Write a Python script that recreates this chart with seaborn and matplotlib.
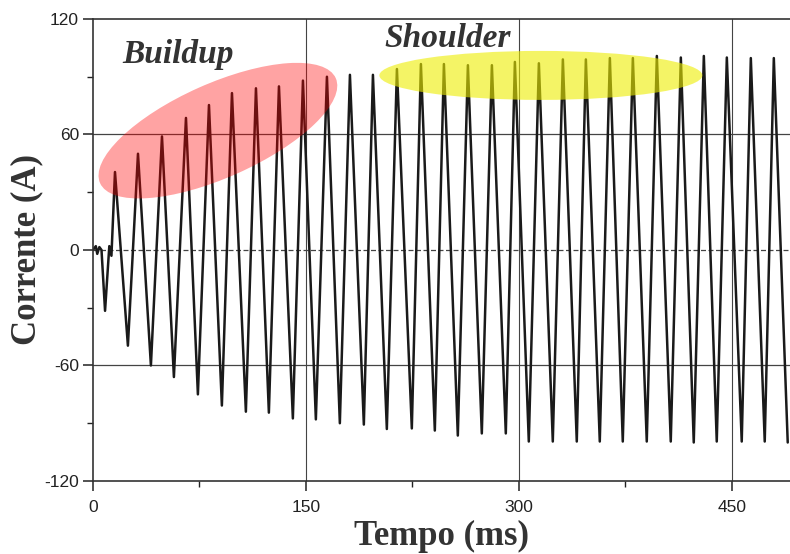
import numpy as np
import pandas as pd
import matplotlib
matplotlib.use("Agg")
import matplotlib.pyplot as plt
import seaborn as sns
from matplotlib.patches import Ellipse
from matplotlib.transforms import ScaledTranslation

# positive peaks (time in ms, current in A)
peak_t = [15.5, 31.7, 48.6, 65.5, 81.7, 97.9, 114.8, 131.0, 147.9, 164.8,
          181.0, 197.2, 214.1, 231.0, 247.2, 264.1, 281.0, 297.2, 314.1, 331.0,
          347.2, 364.1, 380.3, 397.2, 414.1, 430.3, 446.5, 463.4, 479.6]
peak_a = [40.5, 50, 59, 68.6, 75.3, 81.5, 84, 85, 88, 90,
          91, 91, 94, 96.6, 96.6, 96, 96, 97.7, 97, 99,
          99, 99.7, 99.7, 100.8, 100, 100.8, 100, 99.7, 99.7]

# negative troughs
trough_t = [8.5, 24.6, 40.8, 57.0, 73.9, 90.8, 107.7, 123.9, 140.8, 157.0,
            173.9, 190.8, 207.0, 224.6, 240.8, 257.0, 273.9, 290.8, 307.0, 323.9,
            340.8, 357.0, 373.2, 390.1, 407.0, 423.2, 439.4, 457.0, 473.2, 489.4]
trough_a = [-31.6, -49.7, -60, -66, -75, -80.8, -84, -84.5, -87.5, -88,
            -90, -90.7, -93, -92.7, -93.8, -96.4, -95.3, -95.3, -99.5, -99.5,
            -99.5, -99.5, -99.5, -99.5, -99.5, -100, -99.5, -99.5, -99.5, -100]

# noise before energisation + small notch after first dip
start_t = [0, 2, 3, 4.5, 6, 11.5, 13]
start_a = [0, 2, -2, 1.5, 0, 2, -3]

x_ticks = [0, 150, 300, 450]
y_ticks = [-120, -60, 0, 60, 120]
y_labels = ["-120", "-60", "0", "60", "120"]

df = pd.DataFrame({
    "t": start_t + peak_t + trough_t,
    "i": start_a + peak_a + trough_a,
}).sort_values("t")

sns.set_style("white")
plt.rcParams["font.family"] = ["Liberation Sans", "DejaVu Sans"]

fig = plt.figure(figsize=(7.9, 5.54), dpi=100)
ax = fig.add_axes([0.1177, 0.1318, 0.8823, 0.8339])

sns.lineplot(data=df, x="t", y="i", ax=ax, color="#1a1a1a", lw=1.8,
             estimator=None, sort=False, zorder=2)

for yv in [60, -60]:
    ax.axhline(yv, color="#444444", lw=0.9, zorder=1)
ax.axhline(0, color="#444444", lw=0.9, ls=(0, (4, 2)), zorder=1)
for xv in [150, 300, 450]:
    ax.axvline(xv, color="#444444", lw=0.8, zorder=1)

ax.set_xlim(0, 491)
ax.set_ylim(-120, 120)
ax.set_xticks(x_ticks)
ax.set_xticks([75, 225, 375], minor=True)
ax.set_yticks(y_ticks)
ax.set_yticklabels(y_labels)
ax.set_yticks([-90, -30, 30, 90], minor=True)
ax.tick_params(which="major", direction="out", length=7, width=1.1,
               labelsize=12.5, colors="#222222", left=True, bottom=True)
ax.tick_params(axis="y", which="major", pad=3)
ax.tick_params(axis="x", which="major", pad=7)
ax.tick_params(which="minor", direction="out", length=4, width=1.0,
               color="#222222", left=True, bottom=True)

for s in ["left", "bottom", "top"]:
    ax.spines[s].set_color("#333333")
    ax.spines[s].set_linewidth(1.2)
ax.spines["right"].set_visible(False)

ax.set_xlabel("Tempo (ms)", family=["Liberation Serif"], fontweight="bold",
              fontsize=25, color="#333333", labelpad=3)
ax.set_ylabel("Corrente (A)", family=["Liberation Serif"], fontweight="bold",
              fontsize=25, color="#333333", labelpad=1)

# highlight ellipses (sizes in inches, centred on data points)
red = Ellipse((0, 0), width=2.58, height=0.94, angle=24,
              transform=fig.dpi_scale_trans + ScaledTranslation(88, 62, ax.transData),
              facecolor="red", edgecolor="none", alpha=0.36, zorder=3)
yel = Ellipse((0, 0), width=3.23, height=0.49, angle=0,
              transform=fig.dpi_scale_trans + ScaledTranslation(315.5, 90.7, ax.transData),
              facecolor="#eeee00", edgecolor="none", alpha=0.6, zorder=3)
ax.add_patch(red)
ax.add_patch(yel)

ax.text(21, 97, "Buildup", family=["Liberation Serif"], fontweight="bold",
        style="italic", fontsize=24, color="#333333", ha="left", va="baseline")
ax.text(205.6, 105.7, "Shoulder", family=["Liberation Serif"], fontweight="bold",
        style="italic", fontsize=24, color="#333333", ha="left", va="baseline")

fig.savefig("out.png", dpi=100)
